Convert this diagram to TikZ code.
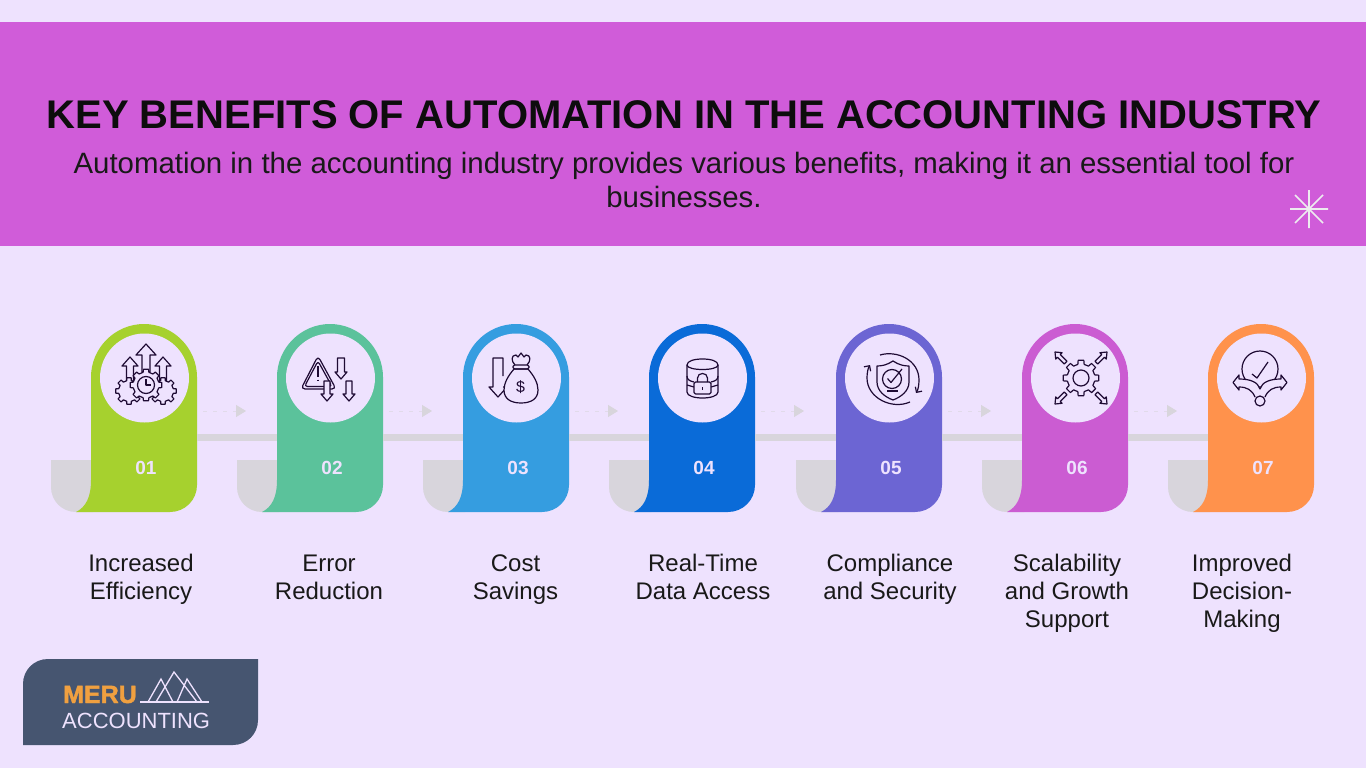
\documentclass[tikz,border=0pt]{standalone}
\usepackage{fontspec}
\setmainfont{Liberation Sans}
\newfontfamily\merufont[FakeBold=1.6]{Liberation Sans Bold}
\usetikzlibrary{arrows.meta}

\newcommand{\capstrut}{\rule{0pt}{20pt}}

\definecolor{pagebg}{HTML}{EEE2FE}
\definecolor{headerbg}{HTML}{D05CD9}
\definecolor{paleline}{HTML}{D8D5DC}
\definecolor{iconink}{HTML}{1E0A33}
\definecolor{logobg}{HTML}{465570}
\definecolor{logoorange}{HTML}{F0A040}
\definecolor{cardA}{HTML}{A6D12E}
\definecolor{cardB}{HTML}{5BC29B}
\definecolor{cardC}{HTML}{359DE0}
\definecolor{cardD}{HTML}{0A6BD8}
\definecolor{cardE}{HTML}{6C65D3}
\definecolor{cardF}{HTML}{CB5CD2}
\definecolor{cardG}{HTML}{FF924C}

\tikzset{
	iconline/.style={line width=1.2pt, draw=iconink, line join=round},
	hole/.style={circle, fill=pagebg, minimum size=89pt, inner sep=0pt},
	numtext/.style={text=pagebg, font=\fontsize{19}{21}\selectfont\bfseries, inner sep=0pt},
	captext/.style={anchor=north, align=center, text=black!90, inner sep=0pt, font=\fontsize{24}{28}\selectfont},
	band/.style={draw=paleline, line width=7pt},
	hint/.style={draw=paleline!60!pagebg, line width=0.8pt, dash pattern=on 4pt off 6pt, -{Triangle[length=10pt, width=12pt, color=paleline]}},
	pics/harrow/.style n args={3}{code={
		\draw[iconline, fill=pagebg] (0,0)--(#2,#2+1)--(#3,#2+1)--(#3,#1)--(-#3,#1)--(-#3,#2+1)--(-#2,#2+1)--cycle;
	}},
	pics/gearwheel/.style n args={2}{code={
		\draw[iconline, fill=pagebg] (-9:#1) \foreach \a in {0,45,...,315}{--(\a-9:#1)--(\a+9:#1)--(\a+13:#2)--(\a+32:#2)} --cycle;
	}},
}

\begin{document}
\begin{tikzpicture}[x=1pt, y=-1pt]
	\fill[pagebg] (0,0) rectangle (1366,768);
	\useasboundingbox (0,0) rectangle (1366,768);
	\fill[headerbg] (0,22) rectangle (1366,246);

	\node[inner sep=0pt, text=black!95, font=\fontsize{40}{42}\selectfont\bfseries] (title) at (684,115) {KEY BENEFITS OF AUTOMATION IN THE ACCOUNTING INDUSTRY};
	\node[inner sep=0pt, anchor=north, align=center, text=black!90, font=\fontsize{29.4}{34}\selectfont] (subtitle) at (684,152) {Automation in the accounting industry provides various benefits, making it an essential tool for\\businesses.};

	\coordinate(star) at (1309,209);
	\draw[paleline!45!white, line width=1.6pt] (star) ++(0,-19)--++(0,38) (star) ++(-19,0)--++(38,0) (star) ++(-14,-14)--++(28,28) (star) ++(-14,14)--++(28,-28);

	\foreach \i/\x/\col/\num in {1/91/cardA/01, 2/277/cardB/02, 3/463/cardC/03, 4/649/cardD/04, 5/836/cardE/05, 6/1022/cardF/06, 7/1208/cardG/07}{
		\coordinate(l\i) at (\x,437.5);
		\coordinate(r\i) at (\x+106,437.5);
		\coordinate(p\i) at (\x+112,411);
		\coordinate(q\i) at (\x+155,411);
		\fill[paleline] (\x-40,460)--(\x+2,460)--(\x+2,512)--(\x-15,512) .. controls (\x-29,512) and (\x-40,501) .. (\x-40,487)--cycle;
		\fill[\col] (\x-15,512) .. controls (\x-5,507) and (\x,497) .. (\x,480)--(\x,377) .. controls (\x,348) and (\x+24,324) .. (\x+53,324) .. controls (\x+82,324) and (\x+106,348) .. (\x+106,377)--(\x+106,485) .. controls (\x+106,500) and (\x+94,512) .. (\x+79,512)--cycle;
		\node[hole] (c\i) at (\x+53.5,378) {};
		\node[numtext] (n\i) at (\x+55,468) {\num};
	}
	\foreach \i/\j in {1/2, 2/3, 3/4, 4/5, 5/6, 6/7}{
		\draw[band] (r\i)--(l\j);
		\draw[hint] (p\i)--(q\i);
	}

	\node[captext] (t1) at (141,551.5) {\capstrut Increased\\Efficiency};
	\node[captext] (t2) at (329,551.5) {\capstrut Error\\Reduction};
	\node[captext] (t3) at (515.5,551.5) {\capstrut Cost\\Savings};
	\node[captext] (t4) at (703,551.5) {\capstrut Real-Time\\Data Access};
	\node[captext] (t5) at (890,551.5) {\capstrut Compliance\\and Security};
	\node[captext] (t6) at (1067,551.5) {\capstrut Scalability\\and Growth\\Support};
	\node[captext] (t7) at (1242,551.5) {\capstrut Improved\\Decision-\\Making};

	% icon 01
	\pic at (146,344) {harrow={28}{10}{4}};
	\pic at (130,357) {harrow={24}{8}{3.5}};
	\pic at (163,357) {harrow={24}{8}{3.5}};
	\pic at (129,391) {gearwheel={13.5}{10.5}};
	\pic at (163,391) {gearwheel={13.5}{10.5}};
	\pic at (146,385) {gearwheel={16}{13}};
	\draw[iconline] (146,385) circle (8.5);
	\draw[iconline] (146,379)--(146,385)--(151,385);

	% icon 02
	\draw[iconline, rounded corners=4pt] (318,356)--(336,389)--(301,389)--cycle;
	\draw[iconline, rounded corners=3pt] (318,361)--(332,386.5)--(304.5,386.5)--cycle;
	\draw[iconline, line width=1.6pt] (318,366)--(318,377) (318,379.5)--(318,381);
	\pic[rotate=180] at (327,401) {harrow={20}{6}{3}};
	\pic[rotate=180] at (341,379) {harrow={21}{6}{3.5}};
	\pic[rotate=180] at (349,401) {harrow={20}{6}{3}};

	% icon 03
	\draw[iconline] (503,376)--(503,358)--(493,358)--(493,387)--(489,387)--(498,397)--(507,387)--(503,387);
	\draw[iconline, fill=pagebg] (514,369) .. controls (508,376) and (504,383) .. (504,390) .. controls (504,399) and (511,403) .. (521,403) .. controls (531,403) and (538,399) .. (538,390) .. controls (538,383) and (534,376) .. (528,369)--cycle;
	\draw[iconline, rounded corners=1.5pt] (513,365) rectangle (529,369);
	\draw[iconline] (515,365) .. controls (511,361) and (511,355) .. (516,355)--(518,357)--(521,353)--(524,357)--(526,355) .. controls (531,355) and (531,361) .. (527,365);
	\node[inner sep=0pt, text=iconink, font=\fontsize{16}{16}\selectfont] (dollar) at (520.5,387) {\$};

	% icon 04
	\draw[iconline] (687,365)--(687,392) .. controls (687,400) and (718,400) .. (718,392)--(718,365);
	\draw[iconline] (702.5,359) .. controls (694,359) and (687,361) .. (687,365) .. controls (687,371) and (718,371) .. (718,365) .. controls (718,361) and (711,359) .. (702.5,359)--cycle;
	\draw[iconline] (687,376) .. controls (687,380) and (690,381) .. (694,382) (718,376) .. controls (718,380) and (715,381) .. (711,382);
	\draw[iconline] (687,385)--(694,387) (718,385)--(711,387);
	\draw[iconline, fill=pagebg, rounded corners=1.5pt] (694,382) rectangle (711,394);
	\draw[iconline] (697.5,382)--(697.5,378) .. controls (697.5,372) and (707.5,372) .. (707.5,378)--(707.5,382);
	\draw[iconline] (702.5,387)--(702.5,390);

	% icon 05
	\draw[iconline, -{Straight Barb[length=4pt, width=8pt]}] (880,355) .. controls (897,350) and (919,360) .. (919,380) .. controls (919,385) and (918,390) .. (916,393);
	\draw[iconline, -{Straight Barb[length=4pt, width=8pt]}] (910,402) .. controls (892,410) and (867,398) .. (867,378) .. controls (867,373) and (868,368) .. (870,365);
	\draw[iconline] (893,361) .. controls (887,365) and (882,366) .. (877,366)--(877,382) .. controls (877,391) and (885,397) .. (893,400) .. controls (901,397) and (909,391) .. (909,382)--(909,366) .. controls (904,366) and (899,365) .. (893,361)--cycle;
	\draw[iconline] (892,379) circle (9.5);
	\draw[iconline] (887.5,378.5)--(891,382.5)--(902,369);
	\draw[iconline] (887,391)--(898,391);

	% icon 06
	\pic at (1081,378) {gearwheel={18}{14}};
	\draw[iconline] (1081,378) circle (8);
	\pic[rotate=-45] at (1107,352) {harrow={15}{4.5}{2}};
	\pic[rotate=45] at (1055,352) {harrow={15}{4.5}{2}};
	\pic[rotate=135] at (1055,404) {harrow={15}{4.5}{2}};
	\pic[rotate=-135] at (1107,404) {harrow={15}{4.5}{2}};

	% icon 07
	\draw[iconline] (1260,369) circle (18);
	\draw[iconline] (1252,374)--(1257,378)--(1268,362);
	\draw[iconline, fill=pagebg] (1255,397) .. controls (1252,390) and (1247,387) .. (1239,387)--(1239,390)--(1233,382.5)--(1239,375)--(1239,379) .. controls (1250,379) and (1258,382) .. (1260,389) .. controls (1262,382) and (1270,379) .. (1281,379)--(1281,375)--(1287,382.5)--(1281,390)--(1281,387) .. controls (1273,387) and (1268,390) .. (1265,397);
	\draw[iconline, fill=pagebg] (1260,401) circle (5);

	% logo
	\fill[logobg] (23,745)--(23,684) .. controls (23,670) and (34,659) .. (48,659)--(258,659)--(258,720) .. controls (258,734) and (247,745) .. (233,745)--cycle;
	\node[anchor=base west, inner sep=0pt, text=logoorange, font=\fontsize{25}{25}\selectfont\merufont] (meru) at (63,703) {MERU};
	\node[anchor=base west, inner sep=0pt, text=pagebg, font=\fontsize{22}{22}\selectfont] (accounting) at (62,728) {ACCOUNTING};
	\draw[pagebg, line width=1.3pt] (140,702)--(209,702);
	\draw[pagebg, line width=1.3pt] (148,702)--(161,679)--(173,702) (156,702)--(174,672)--(197,702) (177,702)--(187,679)--(202,702);
\end{tikzpicture}
\end{document}
